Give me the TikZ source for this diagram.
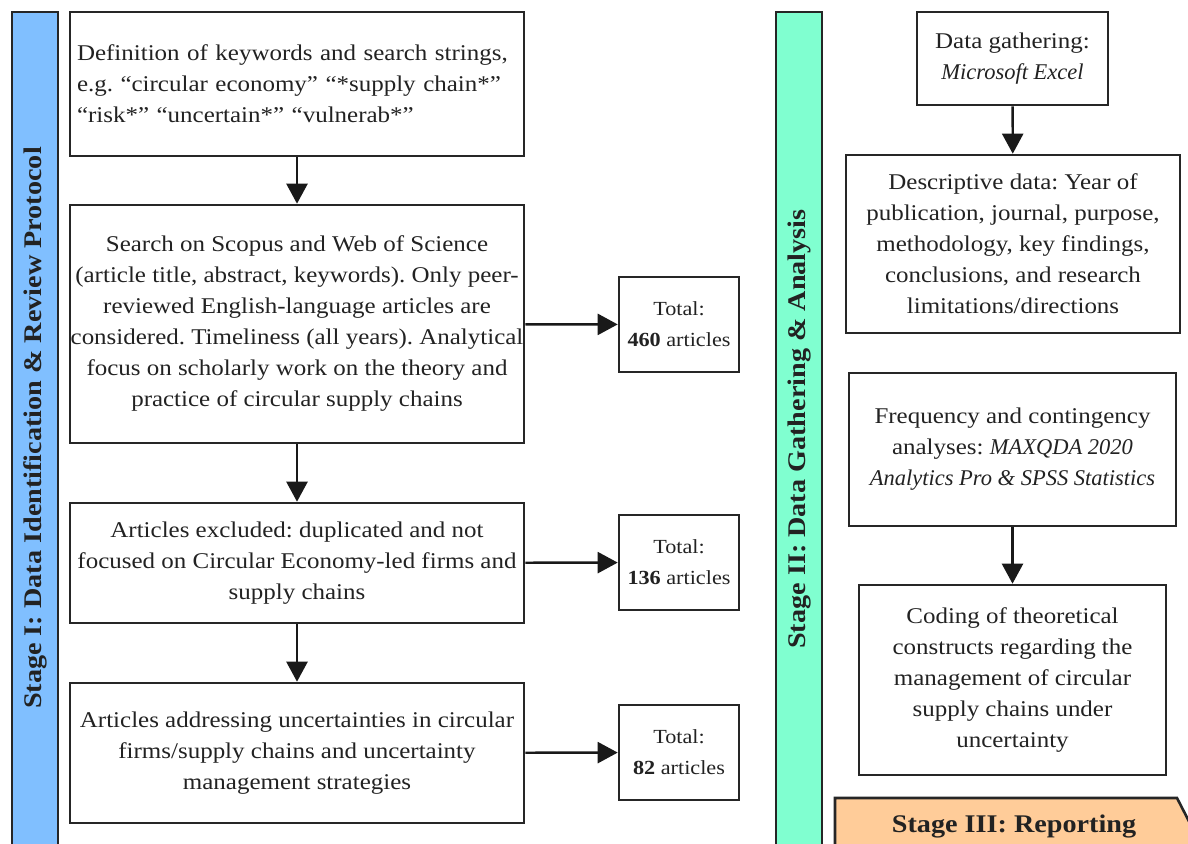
\documentclass[tikz,border=0pt]{standalone}
\usepackage{fontspec}
\setmainfont{Liberation Serif}[FakeStretch=1.11]
\newfontfamily\itfam{Liberation Serif Italic}
\newcommand{\myit}[1]{{\itfam #1}}
\usetikzlibrary{arrows.meta}
\definecolor{barblue}{RGB}{128,191,255}
\definecolor{bargreen}{RGB}{128,255,208}
\definecolor{barorange}{RGB}{255,204,153}
\definecolor{txt}{RGB}{34,34,34}
\tikzset{
  box/.style={draw=black!85, line width=2.6pt, inner sep=0pt, text=txt,
    align=center, font=\fontsize{22.5}{31}\selectfont},
  totbox/.style={box, minimum width=120pt, minimum height=95pt, font=\fontsize{20}{31}\selectfont},
  bar/.style={draw=black!85, line width=2.6pt, inner sep=0pt},
  bartext/.style={rotate=90, font=\fontsize{25.4}{28}\selectfont\bfseries, text=txt},
  conn/.style={line width=2.4pt, draw=black!90, -{Triangle[width=21pt,length=20pt]}},
}
\frenchspacing
\begin{document}
\begin{tikzpicture}[x=1pt,y=-1pt]
\useasboundingbox (0,0) rectangle (1188,843);
\clip (0,0) rectangle (1188,843);
\fill[white] (0,0) rectangle (1188,843);
% bars
\draw[bar, fill=barblue] (12,12) rectangle (58,860);
\node[bartext] (s1) at (35,428) {Stage I: Data Identification \& Review Protocol};
\draw[bar, fill=bargreen] (776,12) rectangle (822,860);
\node[bartext] (s2) at (799,429) {Stage II: Data Gathering \& Analysis};
\draw[bar, fill=barorange] (835,798) -- (1177,798) -- (1196,835) -- (1196,860) -- (835,860) -- cycle;
\node[font=\fontsize{25.4}{28}\selectfont\bfseries, text=txt] (s3) at (1014,826) {Stage III: Reporting};
% left column
\node[box, minimum width=454pt, minimum height=144pt, text width=440pt, align=left] (b1) at (297,84)
 {Definition of keywords and search strings,\\ e.g. “circular economy” “*supply chain*”\\ “risk*” “uncertain*” “vulnerab*”};
\node[box, minimum width=454pt, minimum height=238pt] (b2) at (297,324)
 {Search on Scopus and Web of Science\\ (article title, abstract, keywords). Only peer-\\ reviewed English-language articles are\\ considered. Timeliness (all years). Analytical\\ focus on scholarly work on the theory and\\ practice of circular supply chains};
\node[box, minimum width=454pt, minimum height=120pt] (b3) at (297,563)
 {Articles excluded: duplicated and not\\ focused on Circular Economy-led firms and\\ supply chains};
\node[box, minimum width=454pt, minimum height=140pt] (b4) at (297,753)
 {Articles addressing uncertainties in circular\\ firms/supply chains and uncertainty\\ management strategies};
\node[totbox] (t1) at (679,324.5) {Total:\\ \textbf{460} articles};
\node[totbox] (t2) at (679,562.5) {Total:\\ \textbf{136} articles};
\node[totbox] (t3) at (679,752.5) {Total:\\ \textbf{82} articles};
\draw[conn] (b1) -- (b2);
\draw[conn] (b2) -- (b3);
\draw[conn] (b3) -- (b4);
\draw[conn] (b2) -- (t1);
\draw[conn] (b3) -- (t2);
\draw[conn] (b4) -- (t3);
% right column
\node[box, minimum width=191pt, minimum height=93pt] (r1) at (1012.5,58.5)
 {Data gathering:\\ \myit{Microsoft Excel}};
\node[box, minimum width=334pt, minimum height=178pt] (r2) at (1013,244)
 {Descriptive data: Year of\\ publication, journal, purpose,\\ methodology, key findings,\\ conclusions, and research\\ limitations/directions};
\node[box, minimum width=327pt, minimum height=153pt] (r3) at (1012.5,449.5)
 {Frequency and contingency\\ analyses: \myit{MAXQDA 2020}\\ \myit{Analytics Pro \& SPSS Statistics}};
\node[box, minimum width=307pt, minimum height=190pt] (r4) at (1012.5,680)
 {Coding of theoretical\\ constructs regarding the\\ management of circular\\ supply chains under\\ uncertainty};
\draw[conn] (r1) -- (r2);
\draw[conn] (r3) -- (r4);
\end{tikzpicture}
\end{document}
